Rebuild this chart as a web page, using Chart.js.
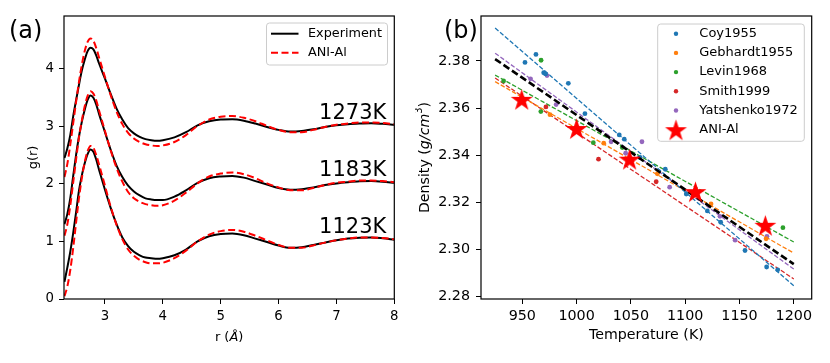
<!DOCTYPE html>
<html>
<head>
<meta charset="utf-8">
<script src="https://cdn.jsdelivr.net/npm/chart.js@4.4.0/dist/chart.umd.min.js"></script>
<style>
body { margin: 0; background: #fff; }
#wrap { position: relative; width: 830px; height: 363px; }
canvas { position: absolute; top: 0; }
#grChart { left: 0; }
#densChart { left: 415px; }
</style>
</head>
<body>
<div id="wrap">
<canvas id="grChart" width="415" height="363" style="width:415px;height:363px"></canvas>
<canvas id="densChart" width="415" height="363" style="width:415px;height:363px"></canvas>
</div>
<script>
/* ==========================================
DATA - panel (a): g(r), curves already shifted
========================================== */
const rValues = [2.3, 2.35, 2.4, 2.45, 2.5, 2.55, 2.6, 2.65, 2.7, 2.75, 2.8, 2.85, 2.9,
  3.0, 3.1, 3.2, 3.3, 3.4, 3.5, 3.6, 3.7, 3.8, 3.9, 4.0, 4.2, 4.4, 4.6, 4.8, 5.0,
  5.2, 5.4, 5.6, 5.8, 6.0, 6.2, 6.4, 6.6, 6.8, 7.0, 7.2, 7.4, 7.6, 7.8, 8.0];

const exp1123 = [0.30, 0.55, 0.82, 1.14, 1.50, 1.88, 2.15, 2.36, 2.52, 2.60, 2.56, 2.42, 2.24,
  1.90, 1.58, 1.30, 1.07, 0.92, 0.82, 0.76, 0.72, 0.71, 0.70, 0.71, 0.76, 0.86, 1.00, 1.09, 1.13,
  1.14, 1.11, 1.05, 0.99, 0.93, 0.89, 0.90, 0.94, 0.98, 1.02, 1.05, 1.065, 1.07, 1.055, 1.03];
const ani1123 = [0.05, 0.22, 0.50, 0.88, 1.32, 1.75, 2.10, 2.38, 2.57, 2.66, 2.63, 2.50, 2.33,
  1.97, 1.60, 1.29, 1.04, 0.86, 0.75, 0.68, 0.64, 0.62, 0.62, 0.63, 0.71, 0.84, 1.00, 1.12, 1.18,
  1.20, 1.17, 1.10, 1.02, 0.94, 0.89, 0.89, 0.93, 0.98, 1.02, 1.05, 1.07, 1.07, 1.06, 1.04];
const exp1183 = [1.30, 1.48, 1.75, 2.13, 2.50, 2.82, 3.08, 3.29, 3.46, 3.54, 3.50, 3.38, 3.21,
  2.90, 2.59, 2.32, 2.12, 1.97, 1.87, 1.80, 1.75, 1.73, 1.72, 1.72, 1.78, 1.89, 2.02, 2.10, 2.13,
  2.14, 2.11, 2.05, 1.99, 1.93, 1.90, 1.91, 1.94, 1.98, 2.01, 2.03, 2.045, 2.05, 2.04, 2.02];
const ani1183 = [1.10, 1.30, 1.62, 2.02, 2.42, 2.80, 3.10, 3.35, 3.53, 3.61, 3.57, 3.45, 3.27,
  2.92, 2.58, 2.28, 2.04, 1.86, 1.75, 1.69, 1.65, 1.63, 1.62, 1.63, 1.71, 1.85, 2.01, 2.13, 2.18,
  2.20, 2.17, 2.10, 2.01, 1.94, 1.89, 1.89, 1.93, 1.98, 2.02, 2.04, 2.06, 2.06, 2.05, 2.03];
const exp1273 = [2.45, 2.62, 2.85, 3.17, 3.45, 3.72, 3.97, 4.16, 4.31, 4.37, 4.34, 4.23, 4.09,
  3.83, 3.56, 3.31, 3.12, 2.97, 2.88, 2.82, 2.78, 2.76, 2.75, 2.76, 2.81, 2.90, 3.02, 3.09, 3.12,
  3.125, 3.10, 3.05, 2.99, 2.94, 2.91, 2.92, 2.95, 2.99, 3.02, 3.04, 3.05, 3.055, 3.045, 3.03];
const ani1273 = [2.12, 2.35, 2.68, 3.05, 3.42, 3.77, 4.07, 4.31, 4.47, 4.53, 4.49, 4.36, 4.19,
  3.86, 3.54, 3.26, 3.04, 2.89, 2.79, 2.73, 2.69, 2.67, 2.66, 2.67, 2.73, 2.85, 3.01, 3.12, 3.17,
  3.18, 3.15, 3.09, 3.01, 2.94, 2.90, 2.90, 2.94, 2.99, 3.03, 3.05, 3.07, 3.07, 3.06, 3.04];

const grLegend = ["Experiment", "ANI-Al"];
const tempLabels = ["1123K", "1183K", "1273K"];
const grTicksX = [3, 4, 5, 6, 7, 8];
const grTicksY = [0, 1, 2, 3, 4];

/* ==========================================
DATA - panel (b): density vs temperature
========================================== */
const sources = ["Coy1955", "Gebhardt1955", "Levin1968", "Smith1999", "Yatshenko1972"];

const coyT = [952.5, 962.6, 969.7, 971.5, 992.4, 1007.7, 1039.3, 1043.9, 1058.4, 1081.7, 1101, 1120.4, 1132.7, 1155.1, 1175, 1185.2];
const coyD = [2.3794, 2.3828, 2.3750, 2.3745, 2.3705, 2.3576, 2.3486, 2.3468, 2.3390, 2.3340, 2.3235, 2.3163, 2.3115, 2.2995, 2.2925, 2.2913];
const gebT = [975.5, 1025, 1074.4, 1123.8, 1174.5];
const gebD = [2.3572, 2.3451, 2.3321, 2.3193, 2.3045];
const levT = [932.8, 967.3, 967.1, 1015.4, 1042.1, 1190];
const levD = [2.3715, 2.3803, 2.3585, 2.3453, 2.3432, 2.3092];
const smiT = [971.8, 1020.2, 1073.3];
const smiD = [2.3605, 2.3383, 2.3287];
const yatT = [957.6, 972.8, 981.2, 1031.8, 1045.2, 1060.2, 1085.7, 1132, 1146, 1175.3];
const yatD = [2.3724, 2.3738, 2.3615, 2.3457, 2.3408, 2.3457, 2.3264, 2.3140, 2.3039, 2.3055];

const aniT = [949.5, 1000, 1048.8, 1109.5, 1173.8];
const aniD = [2.3637, 2.3513, 2.3383, 2.3245, 2.3102];

// linear fits, evaluated at the two ends
const fitT = [925, 1200];
const coyFit = [2.3940, 2.2845];
const gebFit = [2.3712, 2.2984];
const levFit = [2.3740, 2.3031];
const smiFit = [2.3728, 2.2874];
const yatFit = [2.3833, 2.2916];
const aniFit = [2.3808, 2.2937];

const densTicksX = [950, 1000, 1050, 1100, 1150, 1200];
const densTicksY = [2.28, 2.30, 2.32, 2.34, 2.36, 2.38];

/* ==========================================
HELPERS
========================================== */
const FONT = '"DejaVu Sans"';
Chart.defaults.font.family = FONT;
Chart.defaults.color = "#000";

const tab = ["#1f77b4", "#ff7f0e", "#2ca02c", "#d62728", "#9467bd"];

function pts(xs, ys) {
  return xs.map((x, i) => ({ x: x, y: ys[i] }));
}

function makeStar(R, color) {
  const size = Math.ceil(R * 2 + 2);
  const c = document.createElement("canvas");
  c.width = size; c.height = size;
  const g = c.getContext("2d");
  const r = R * 0.382, cx = size / 2, cy = size / 2 + R * 0.1;
  g.beginPath();
  for (let i = 0; i < 10; i++) {
    const rad = i % 2 ? r : R;
    const a = -Math.PI / 2 + i * Math.PI / 5;
    g.lineTo(cx + rad * Math.cos(a), cy + rad * Math.sin(a));
  }
  g.closePath();
  g.fillStyle = color;
  g.fill();
  return c;
}
const star = makeStar(11.5, "#ff0000");

function drawParts(ctx, parts, x, y, rot, size) {
  ctx.save();
  ctx.translate(x, y);
  ctx.rotate(rot);
  ctx.textBaseline = "middle";
  ctx.textAlign = "left";
  ctx.fillStyle = "#000";
  let total = 0;
  parts.forEach(p => {
    ctx.font = (p.it ? "italic " : "") + (p.sup ? size * 0.7 : size) + "px " + FONT;
    p.w = ctx.measureText(p.t).width;
    total += p.w;
  });
  let cx = -total / 2;
  parts.forEach(p => {
    ctx.font = (p.it ? "italic " : "") + (p.sup ? size * 0.7 : size) + "px " + FONT;
    ctx.fillText(p.t, cx, p.sup ? -size * 0.38 : 0);
    cx += p.w;
  });
  ctx.restore();
}

function legendFrame(ctx, x, y, w, h) {
  ctx.save();
  ctx.beginPath();
  ctx.roundRect(x, y, w, h, 3);
  ctx.fillStyle = "rgba(255,255,255,0.8)";
  ctx.fill();
  ctx.strokeStyle = "#cccccc";
  ctx.lineWidth = 1;
  ctx.stroke();
  ctx.restore();
}

const frame = {
  id: "frame",
  afterDatasetsDraw(chart) {
    const { ctx, chartArea: a } = chart;
    ctx.save();
    ctx.strokeStyle = "#000";
    ctx.lineWidth = 1.2;
    ctx.strokeRect(a.left, a.top, a.right - a.left, a.bottom - a.top);
    ctx.restore();
  }
};

function axisOpts(ticks, min, max, fontSize, fmt, pad) {
  return {
    type: "linear",
    min: min,
    max: max,
    afterBuildTicks: s => { s.ticks = ticks.map(v => ({ value: v })); },
    grid: { display: true, drawOnChartArea: false, drawTicks: true, tickLength: 5, color: "#000", lineWidth: 1 },
    border: { display: false },
    ticks: { font: { size: fontSize }, padding: pad, autoSkip: false, maxRotation: 0, callback: fmt }
  };
}

/* ==========================================
PANEL (a) - g(r)
========================================== */
const grLines = [
  { data: exp1123, kind: 0 }, { data: exp1183, kind: 0 }, { data: exp1273, kind: 0 },
  { data: ani1123, kind: 1 }, { data: ani1183, kind: 1 }, { data: ani1273, kind: 1 }
];

new Chart(
document.getElementById("grChart"),
{
type: "line",

data: {
datasets: grLines.map(l => ({
  label: grLegend[l.kind],
  data: pts(rValues, l.data),
  borderColor: l.kind ? "#ff0000" : "#000000",
  borderWidth: 2,
  borderDash: l.kind ? [7, 3.5] : [],
  pointRadius: 0,
  cubicInterpolationMode: "monotone",
  order: l.kind ? 1 : 2
}))
},

options: {
  responsive: false,
  animation: false,
  layout: { padding: { top: 16, right: 20.7, left: 0, bottom: 0 } },
  plugins: { legend: { display: false }, tooltip: { enabled: false } },
  scales: {
    x: Object.assign(axisOpts(grTicksX, 2.292, 8, 13.3, v => v, 5), { afterFit: s => { s.height = 64; } }),
    y: Object.assign(axisOpts(grTicksY, 0, 4.92, 13.3, v => v, 5), { afterFit: s => { s.width = 64; } })
  }
},

plugins: [frame, {
  id: "grDecor",
  afterDraw(chart) {
    const { ctx, scales: { x, y }, chartArea: a } = chart;
    // axis titles
    drawParts(ctx, [{ t: "r (" }, { t: "Å", it: true }, { t: ")" }], (a.left + a.right) / 2, 338, 0, 13);
    drawParts(ctx, [{ t: "g(r)" }], 33.5, (a.top + a.bottom) / 2, -Math.PI / 2, 13);
    // temperature labels
    ctx.save();
    ctx.font = "21px " + FONT;
    ctx.fillStyle = "#000";
    ctx.textBaseline = "alphabetic";
    const base = [1.15, 2.14, 3.13];
    tempLabels.forEach((t, i) => ctx.fillText(t, x.getPixelForValue(6.7), y.getPixelForValue(base[i])));
    // panel letter
    ctx.font = "24px " + FONT;
    ctx.textBaseline = "middle";
    ctx.fillText("(a)", 9, 32);
    ctx.restore();
    // legend
    legendFrame(ctx, 266.5, 23, 121, 42);
    ctx.save();
    ctx.lineWidth = 2;
    [0, 1].forEach(i => {
      const yy = 33.7 + i * 19;
      ctx.strokeStyle = i ? "#ff0000" : "#000";
      ctx.setLineDash(i ? [7, 3.5] : []);
      ctx.beginPath(); ctx.moveTo(271, yy); ctx.lineTo(298.5, yy); ctx.stroke();
      ctx.setLineDash([]);
      ctx.font = "12.8px " + FONT;
      ctx.fillStyle = "#000";
      ctx.textBaseline = "middle";
      ctx.fillText(grLegend[i], 308, yy);
    });
    ctx.restore();
  }
}]
}
);

/* ==========================================
PANEL (b) - density
========================================== */
const srcT = [coyT, gebT, levT, smiT, yatT];
const srcD = [coyD, gebD, levD, smiD, yatD];
const srcFit = [coyFit, gebFit, levFit, smiFit, yatFit];

const densSets = [];
sources.forEach((s, i) => {
  densSets.push({
    label: s,
    data: pts(srcT[i], srcD[i]),
    backgroundColor: tab[i],
    pointRadius: 2.4,
    pointBorderWidth: 0,
    order: 4
  });
});
sources.forEach((s, i) => {
  densSets.push({
    label: s + " fit",
    data: pts(fitT, srcFit[i]),
    showLine: true,
    borderColor: tab[i],
    borderWidth: 1.3,
    borderDash: [4.5, 2],
    pointRadius: 0,
    order: 5
  });
});
densSets.push({
  label: "ANI-Al fit",
  data: pts(fitT, aniFit),
  showLine: true,
  borderColor: "#000",
  borderWidth: 2.6,
  borderDash: [7, 3.2],
  pointRadius: 0,
  order: 3
});
densSets.push({
  label: "ANI-Al",
  data: pts(aniT, aniD),
  pointStyle: star,
  pointRadius: 11,
  order: 1
});

new Chart(
document.getElementById("densChart"),
{
type: "scatter",

data: { datasets: densSets },

options: {
  responsive: false,
  animation: false,
  layout: { padding: { top: 16, right: 18.3, left: 0, bottom: 0 } },
  plugins: { legend: { display: false }, tooltip: { enabled: false } },
  scales: {
    x: Object.assign(axisOpts(densTicksX, 912, 1216.5, 14.3, v => v, 4), { afterFit: s => { s.height = 64; } }),
    y: Object.assign(axisOpts(densTicksY, 2.2789, 2.3991, 14.3, v => v.toFixed(2), 6), { afterFit: s => { s.width = 66; } })
  }
},

plugins: [frame, {
  id: "densDecor",
  afterDraw(chart) {
    const { ctx, chartArea: a } = chart;
    drawParts(ctx, [{ t: "Temperature (K)" }], (a.left + a.right) / 2, 335, 0, 14.2);
    drawParts(ctx, [{ t: "Density (" }, { t: "g/cm", it: true }, { t: "3", sup: true }, { t: ")" }], 10, (a.top + a.bottom) / 2, -Math.PI / 2, 14.2);
    ctx.save();
    ctx.font = "24px " + FONT;
    ctx.fillStyle = "#000";
    ctx.textBaseline = "middle";
    ctx.fillText("(b)", 29, 32);
    ctx.restore();
    // legend
    legendFrame(ctx, 242.7, 24, 146.6, 117.3);
    ctx.save();
    const names = sources.concat(["ANI-Al"]);
    names.forEach((n, i) => {
      const yy = 33.7 + i * 19.2;
      if (i < 5) {
        ctx.beginPath();
        ctx.arc(261, yy, 2.2, 0, Math.PI * 2);
        ctx.fillStyle = tab[i];
        ctx.fill();
      } else {
        ctx.drawImage(star, 261 - star.width / 2, yy - star.height / 2);
      }
      ctx.font = "13px " + FONT;
      ctx.fillStyle = "#000";
      ctx.textBaseline = "middle";
      ctx.fillText(n, 284.3, yy);
    });
    ctx.restore();
  }
}]
}
);
</script>
</body>
</html>
